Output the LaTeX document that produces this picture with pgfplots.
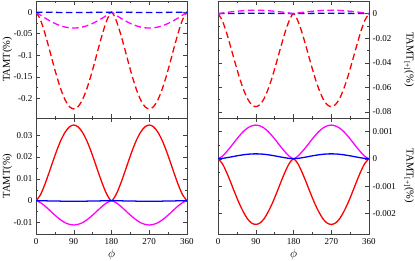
\documentclass[border=0pt]{standalone}
\usepackage{fontspec}
\setmainfont{Liberation Serif}
\usepackage{pgfplots}
\usepackage{pgfplotstable}
\pgfplotsset{compat=1.18}

\pgfplotstableread{
phi r m b
0 0 0 0
10 -0.0163 -0.0064 0
20 -0.0450 -0.0127 -0.0001
30 -0.0795 -0.0185 -0.0002
40 -0.1160 -0.0238 -0.0003
50 -0.1509 -0.0283 -0.0005
60 -0.1813 -0.0320 -0.0006
70 -0.2050 -0.0348 -0.0007
80 -0.2199 -0.0364 -0.0008
90 -0.2250 -0.0370 -0.0008
100 -0.2199 -0.0364 -0.0008
110 -0.2050 -0.0348 -0.0007
120 -0.1813 -0.0320 -0.0006
130 -0.1509 -0.0283 -0.0005
140 -0.1160 -0.0238 -0.0003
150 -0.0795 -0.0185 -0.0002
160 -0.0450 -0.0127 -0.0001
170 -0.0163 -0.0064 0
180 0 0 0
190 -0.0163 -0.0064 0
200 -0.0450 -0.0127 -0.0001
210 -0.0795 -0.0185 -0.0002
220 -0.1160 -0.0238 -0.0003
230 -0.1509 -0.0283 -0.0005
240 -0.1813 -0.0320 -0.0006
250 -0.2050 -0.0348 -0.0007
260 -0.2199 -0.0364 -0.0008
270 -0.2250 -0.0370 -0.0008
280 -0.2199 -0.0364 -0.0008
290 -0.2050 -0.0348 -0.0007
300 -0.1813 -0.0320 -0.0006
310 -0.1509 -0.0283 -0.0005
320 -0.1160 -0.0238 -0.0003
330 -0.0795 -0.0185 -0.0002
340 -0.0450 -0.0127 -0.0001
350 -0.0163 -0.0064 0
360 0 0 0
}\tableTL

\pgfplotstableread{
phi r m b
0 0 0 0
10 0.0025 -0.0008 0
20 0.0069 -0.0022 0
30 0.0122 -0.0039 -0.0001
40 0.0178 -0.0057 -0.0001
50 0.0232 -0.0074 -0.0001
60 0.0279 -0.0089 -0.0002
70 0.0315 -0.0101 -0.0002
80 0.0338 -0.0108 -0.0002
90 0.0346 -0.0111 -0.0002
100 0.0338 -0.0108 -0.0002
110 0.0315 -0.0101 -0.0002
120 0.0279 -0.0089 -0.0002
130 0.0232 -0.0074 -0.0001
140 0.0178 -0.0057 -0.0001
150 0.0122 -0.0039 -0.0001
160 0.0069 -0.0022 0
170 0.0025 -0.0008 0
180 0 0 0
190 0.0025 -0.0008 0
200 0.0069 -0.0022 0
210 0.0122 -0.0039 -0.0001
220 0.0178 -0.0057 -0.0001
230 0.0232 -0.0074 -0.0001
240 0.0279 -0.0089 -0.0002
250 0.0315 -0.0101 -0.0002
260 0.0338 -0.0108 -0.0002
270 0.0346 -0.0111 -0.0002
280 0.0338 -0.0108 -0.0002
290 0.0315 -0.0101 -0.0002
300 0.0279 -0.0089 -0.0002
310 0.0232 -0.0074 -0.0001
320 0.0178 -0.0057 -0.0001
330 0.0122 -0.0039 -0.0001
340 0.0069 -0.0022 0
350 0.0025 -0.0008 0
360 0 0 0
}\tableBL

\pgfplotstableread{
phi r m b
0 0 0 0
10 -0.0055 0.0005 0.00005
20 -0.0151 0.0010 0.0001
30 -0.0268 0.0014 0.00015
40 -0.0390 0.0018 0.0002
50 -0.0508 0.0021 0.00023
60 -0.0610 0.0024 0.00026
70 -0.0690 0.0026 0.00028
80 -0.0740 0.0028 0.0003
90 -0.0757 0.0028 0.0003
100 -0.0740 0.0028 0.0003
110 -0.0690 0.0026 0.00028
120 -0.0610 0.0024 0.00026
130 -0.0508 0.0021 0.00023
140 -0.0390 0.0018 0.0002
150 -0.0268 0.0014 0.00015
160 -0.0151 0.0010 0.0001
170 -0.0055 0.0005 0.00005
180 0 0 0
190 -0.0055 0.0005 0.00005
200 -0.0151 0.0010 0.0001
210 -0.0268 0.0014 0.00015
220 -0.0390 0.0018 0.0002
230 -0.0508 0.0021 0.00023
240 -0.0610 0.0024 0.00026
250 -0.0690 0.0026 0.00028
260 -0.0740 0.0028 0.0003
270 -0.0757 0.0028 0.0003
280 -0.0740 0.0028 0.0003
290 -0.0690 0.0026 0.00028
300 -0.0610 0.0024 0.00026
310 -0.0508 0.0021 0.00023
320 -0.0390 0.0018 0.0002
330 -0.0268 0.0014 0.00015
340 -0.0151 0.0010 0.0001
350 -0.0055 0.0005 0.00005
360 0 0 0
}\tableTR

\pgfplotstableread{
phi r m b
0 0 0 0
10 -0.00017 0.00009 0.000013
20 -0.00048 0.00025 0.000036
30 -0.00085 0.00043 0.000064
40 -0.00124 0.00063 0.000093
50 -0.00161 0.00082 0.000121
60 -0.00193 0.00099 0.000145
70 -0.00219 0.00112 0.000164
80 -0.00235 0.00120 0.000176
90 -0.00240 0.00123 0.00018
100 -0.00235 0.00120 0.000176
110 -0.00219 0.00112 0.000164
120 -0.00193 0.00099 0.000145
130 -0.00161 0.00082 0.000121
140 -0.00124 0.00063 0.000093
150 -0.00085 0.00043 0.000064
160 -0.00048 0.00025 0.000036
170 -0.00017 0.00009 0.000013
180 0 0 0
190 -0.00017 0.00009 0.000013
200 -0.00048 0.00025 0.000036
210 -0.00085 0.00043 0.000064
220 -0.00124 0.00063 0.000093
230 -0.00161 0.00082 0.000121
240 -0.00193 0.00099 0.000145
250 -0.00219 0.00112 0.000164
260 -0.00235 0.00120 0.000176
270 -0.00240 0.00123 0.00018
280 -0.00235 0.00120 0.000176
290 -0.00219 0.00112 0.000164
300 -0.00193 0.00099 0.000145
310 -0.00161 0.00082 0.000121
320 -0.00124 0.00063 0.000093
330 -0.00085 0.00043 0.000064
340 -0.00048 0.00025 0.000036
350 -0.00017 0.00009 0.000013
360 0 0 0
}\tableBR

\definecolor{myred}{RGB}{255,0,0}
\definecolor{mymag}{RGB}{255,0,255}
\definecolor{myblue}{RGB}{0,0,255}

\pgfplotsset{
  panel/.style={
    scale only axis, width=151pt,
    xmin=0, xmax=360, xtick={0,90,180,270,360}, minor x tick num=1,
    minor y tick num=1,
    tick align=inside, major tick length=4pt, minor tick length=2pt,
    axis line style={black!75}, every tick/.style={black!75},
    xtick pos=both, ytick pos=both,
    scaled y ticks=false,
    ticklabel style={font=\fontsize{9}{10}\selectfont},
    xticklabel style={yshift=-1pt},
    /pgf/number format/assume math mode=true,
    label style={font=\fontsize{10.5}{12}\selectfont},
    xlabel style={font=\fontsize{12.5}{13}\selectfont, yshift=2pt},
    clip=true,
  },
  leftlab/.style={ylabel style={at={(axis description cs:-0.19,0.5)}, anchor=center}},
  rightlab/.style={ylabel style={at={(axis description cs:1.265,0.5)}, anchor=center, rotate=180}},
  dl/.style={line width=1.3pt, dash pattern=on 6.5pt off 3.5pt},
  sl/.style={line width=1.3pt},
}

\begin{document}
\begin{tikzpicture}
\useasboundingbox (0,0) rectangle (415pt,260pt);

% top-left
\begin{axis}[panel, leftlab, at={(36pt,142pt)}, anchor=south west, height=117pt,
  ymin=-0.246, ymax=0.026,
  ytick={-0.2,-0.15,-0.1,-0.05,0},
  yticklabels={-0.2,-0.15,-0.1,-0.05,0},
  xticklabels={},
  ylabel={TAMT(\%)}]
\addplot[dl, myred, smooth] table[x=phi,y=r] {\tableTL};
\addplot[dl, mymag, smooth] table[x=phi,y=m] {\tableTL};
\addplot[dl, myblue, smooth] table[x=phi,y=b] {\tableTL};
\end{axis}

% bottom-left
\begin{axis}[panel, leftlab, at={(36pt,26pt)}, anchor=south west, height=116pt,
  ymin=-0.0152, ymax=0.0378,
  ytick={-0.01,0,0.01,0.02,0.03},
  yticklabels={-0.01,0,0.01,0.02,0.03},
  xticklabels={0,90,180,270,360},
  xlabel={$\phi$},
  ylabel={TAMT(\%)}]
\addplot[sl, myred, smooth] table[x=phi,y=r] {\tableBL};
\addplot[sl, mymag, smooth] table[x=phi,y=m] {\tableBL};
\addplot[sl, myblue, smooth] table[x=phi,y=b] {\tableBL};
\end{axis}

% top-right
\begin{axis}[panel, rightlab, at={(218pt,142pt)}, anchor=south west, height=117pt,
  ymin=-0.0849, ymax=0.0103,
  ytick={-0.08,-0.06,-0.04,-0.02,0},
  yticklabels={-0.08,-0.06,-0.04,-0.02,0},
  xticklabels={},
  yticklabel pos=right, ytick pos=both,
  ylabel={TAMT\textsubscript{[+]}(\%)}]
\addplot[dl, myred, smooth] table[x=phi,y=r] {\tableTR};
\addplot[dl, myblue, smooth] table[x=phi,y=b] {\tableTR};
\addplot[dl, mymag, smooth] table[x=phi,y=m] {\tableTR};
\end{axis}

% bottom-right
\begin{axis}[panel, rightlab, at={(218pt,26pt)}, anchor=south west, height=116pt,
  ymin=-0.00275, ymax=0.00149,
  ytick={-0.002,-0.001,0,0.001},
  yticklabels={-0.002,-0.001,0,0.001},
  xticklabels={0,90,180,270,360},
  xlabel={$\phi$},
  yticklabel pos=right, ytick pos=both,
  ylabel={TAMT\textsubscript{[+]}(\%)}]
\addplot[sl, myred, smooth] table[x=phi,y=r] {\tableBR};
\addplot[sl, mymag, smooth] table[x=phi,y=m] {\tableBR};
\addplot[sl, myblue, smooth] table[x=phi,y=b] {\tableBR};
\end{axis}
\end{tikzpicture}
\end{document}
